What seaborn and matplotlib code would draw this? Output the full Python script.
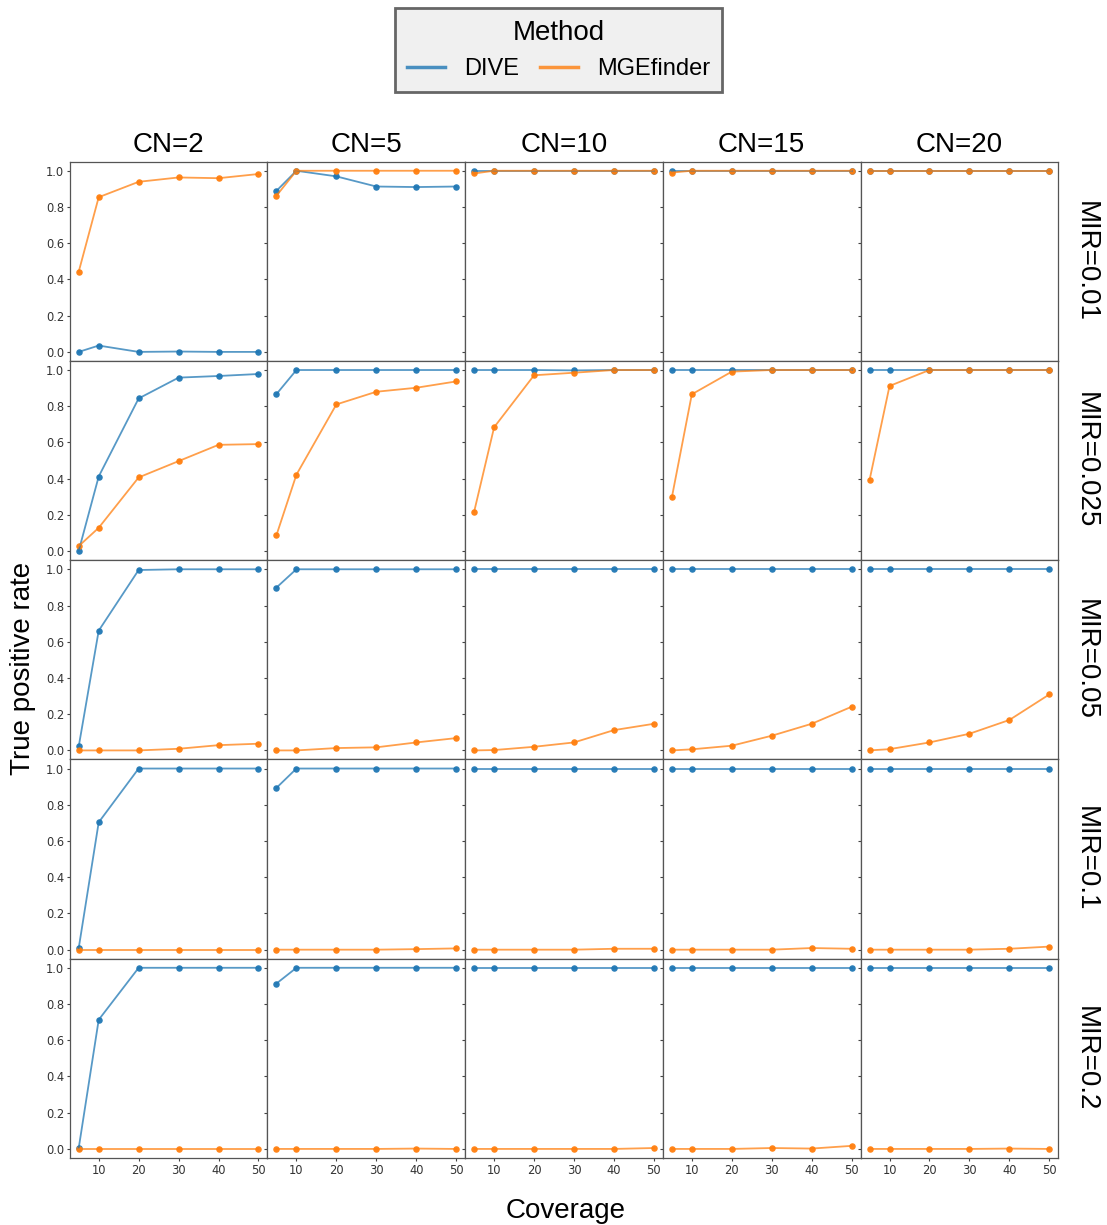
import matplotlib
matplotlib.use("Agg")
import matplotlib.pyplot as plt
from matplotlib.lines import Line2D
import seaborn as sns
import pandas as pd

# ---------------- data ----------------
coverage = [5, 10, 20, 30, 40, 50]
cn_levels = [2, 5, 10, 15, 20]
mir_levels = ["0.01", "0.025", "0.05", "0.1", "0.2"]
methods = ["DIVE", "MGEfinder"]

# each list: one row per CN (2, 5, 10, 15, 20), values over coverage
dive_mir_0_01 = [
    [0.0, 0.035, 0.0, 0.002, 0.0, 0.0],
    [0.889, 1.0, 0.969, 0.913, 0.910, 0.913],
    [1.0, 1.0, 1.0, 1.0, 1.0, 1.0],
    [1.0, 1.0, 1.0, 1.0, 1.0, 1.0],
    [1.0, 1.0, 1.0, 1.0, 1.0, 1.0],
]
mge_mir_0_01 = [
    [0.443, 0.854, 0.939, 0.963, 0.959, 0.982],
    [0.862, 1.0, 1.0, 1.0, 1.0, 1.0],
    [0.985, 1.0, 1.0, 1.0, 1.0, 1.0],
    [0.99, 1.0, 1.0, 1.0, 1.0, 1.0],
    [1.0, 1.0, 1.0, 1.0, 1.0, 1.0],
]
dive_mir_0_025 = [
    [0.002, 0.412, 0.843, 0.958, 0.967, 0.978],
    [0.867, 1.0, 1.0, 1.0, 1.0, 1.0],
    [1.0, 1.0, 1.0, 0.998, 1.0, 1.0],
    [1.0, 1.0, 1.0, 1.0, 1.0, 1.0],
    [1.0, 1.0, 1.0, 1.0, 1.0, 1.0],
]
mge_mir_0_025 = [
    [0.028, 0.129, 0.407, 0.497, 0.587, 0.591],
    [0.088, 0.422, 0.810, 0.880, 0.902, 0.937],
    [0.218, 0.684, 0.971, 0.985, 1.0, 1.0],
    [0.297, 0.866, 0.991, 1.0, 1.0, 1.0],
    [0.393, 0.912, 1.0, 1.0, 1.0, 1.0],
]
dive_mir_0_05 = [
    [0.022, 0.661, 0.996, 1.0, 1.0, 1.0],
    [0.899, 1.0, 1.0, 1.0, 1.0, 1.0],
    [1.0, 1.0, 1.0, 1.0, 1.0, 1.0],
    [1.0, 1.0, 1.0, 1.0, 1.0, 1.0],
    [1.0, 1.0, 1.0, 1.0, 1.0, 1.0],
]
mge_mir_0_05 = [
    [0.0, 0.0, 0.0, 0.009, 0.029, 0.037],
    [0.0, 0.0, 0.013, 0.017, 0.044, 0.068],
    [0.0, 0.002, 0.02, 0.044, 0.112, 0.147],
    [0.0, 0.006, 0.026, 0.081, 0.147, 0.241],
    [0.0, 0.007, 0.044, 0.092, 0.168, 0.309],
]
dive_mir_0_1 = [
    [0.009, 0.703, 1.0, 1.0, 1.0, 1.0],
    [0.893, 1.0, 1.0, 1.0, 1.0, 1.0],
    [1.0, 1.0, 1.0, 1.0, 1.0, 1.0],
    [1.0, 1.0, 1.0, 1.0, 1.0, 1.0],
    [1.0, 1.0, 1.0, 1.0, 1.0, 1.0],
]
mge_mir_0_1 = [
    [0.0, 0.0, 0.0, 0.0, 0.0, 0.0],
    [0.0, 0.0, 0.0, 0.0, 0.003, 0.007],
    [0.0, 0.0, 0.0, 0.0, 0.005, 0.005],
    [0.0, 0.0, 0.0, 0.0, 0.009, 0.005],
    [0.0, 0.0, 0.0, 0.0, 0.005, 0.017],
]
dive_mir_0_2 = [
    [0.005, 0.713, 1.0, 1.0, 1.0, 1.0],
    [0.913, 1.0, 1.0, 1.0, 1.0, 1.0],
    [1.0, 1.0, 1.0, 1.0, 1.0, 1.0],
    [1.0, 1.0, 1.0, 1.0, 1.0, 1.0],
    [1.0, 1.0, 1.0, 1.0, 1.0, 1.0],
]
mge_mir_0_2 = [
    [0.0, 0.0, 0.0, 0.0, 0.0, 0.0],
    [0.0, 0.0, 0.0, 0.0, 0.002, 0.0],
    [0.0, 0.0, 0.0, 0.0, 0.0, 0.005],
    [0.0, 0.0, 0.0, 0.005, 0.002, 0.017],
    [0.0, 0.0, 0.0, 0.0, 0.002, 0.0],
]

dive_by_mir = [dive_mir_0_01, dive_mir_0_025, dive_mir_0_05, dive_mir_0_1, dive_mir_0_2]
mge_by_mir = [mge_mir_0_01, mge_mir_0_025, mge_mir_0_05, mge_mir_0_1, mge_mir_0_2]

rows = []
for mi, mir in enumerate(mir_levels):
    for ci, cn in enumerate(cn_levels):
        for method, src in (("DIVE", dive_by_mir), ("MGEfinder", mge_by_mir)):
            for cov, v in zip(coverage, src[mi][ci]):
                rows.append({"MIR": mir, "CN": cn, "Method": method,
                             "Coverage": cov, "TPR": v})
df = pd.DataFrame(rows)

# ---------------- style ----------------
plt.rcParams.update({
    "axes.edgecolor": "#555555",
    "axes.linewidth": 0.9,
    "xtick.color": "#444444",
    "ytick.color": "#444444",
    "xtick.labelcolor": "#333333",
    "ytick.labelcolor": "#333333",
    "xtick.labelsize": 8.3,
    "ytick.labelsize": 8.3,
    "xtick.major.size": 2.2,
    "ytick.major.size": 2.2,
    "xtick.major.pad": 1.8,
    "ytick.major.pad": 1.8,
    "font.family": ["DejaVu Sans"],
})
colors = ["#1f77b4", "#ff7f0e"]
title_font = ["Liberation Sans", "DejaVu Sans"]

g = sns.FacetGrid(df, row="MIR", col="CN", hue="Method",
                  row_order=mir_levels, col_order=cn_levels,
                  hue_order=methods, palette=colors,
                  sharex=True, sharey=True, height=2, aspect=1,
                  despine=False)
g.map_dataframe(sns.lineplot, x="Coverage", y="TPR", alpha=0.75,
                linewidth=1.3, errorbar=None)
g.map_dataframe(sns.scatterplot, x="Coverage", y="TPR", s=22,
                linewidth=0, alpha=0.95)

fig = g.figure
fig.set_size_inches(11.07, 12.25)
fig.subplots_adjust(left=0.063, right=0.956, top=0.868, bottom=0.0547,
                    wspace=0, hspace=0)

g.set_axis_labels("", "")
for i, mir in enumerate(mir_levels):
    for j, cn in enumerate(cn_levels):
        ax = g.axes[i, j]
        ax.set_title("")
        ax.set_xticks([10, 20, 30, 40, 50])
        ax.set_yticks([0.0, 0.2, 0.4, 0.6, 0.8, 1.0])
        for s in ax.spines.values():
            s.set_visible(True)
        if i == 0:
            ax.set_title(f"CN={cn}", fontsize=20, family=title_font, pad=7)
        if j == len(cn_levels) - 1:
            ax.text(1.075, 0.5, f"MIR={mir}", transform=ax.transAxes,
                    rotation=270, ha="left", va="center", fontsize=20,
                    family=title_font)

fig.text(23 / 1107, 1 - 668 / 1225, "True positive rate", rotation=90,
         ha="center", va="center", fontsize=20, family=title_font)
fig.text(566 / 1107, 0.006, "Coverage", ha="center", va="baseline",
         fontsize=20, family=title_font)

handles = [Line2D([], [], color=c, lw=2.5, alpha=0.8) for c in colors]
leg = fig.legend(handles, methods, title="Method", ncol=2,
                 loc="upper center", bbox_to_anchor=(558.5 / 1107, 1 - 8 / 1225),
                 bbox_transform=fig.transFigure, borderaxespad=0,
                 fancybox=False, frameon=True, handlelength=1.6,
                 columnspacing=0.9, handletextpad=0.8, borderpad=0.52,
                 prop={"family": title_font, "size": 17},
                 title_fontproperties={"family": title_font, "size": 20})
frame = leg.get_frame()
frame.set_facecolor("#f0f0f0")
frame.set_edgecolor("#666666")
frame.set_linewidth(2)
frame.set_alpha(1)

fig.savefig("out.png", dpi=100)
